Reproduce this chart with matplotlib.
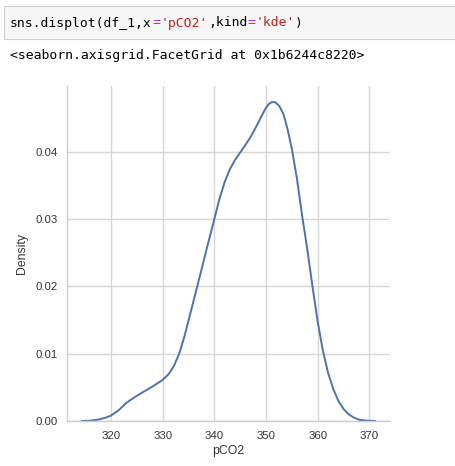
import matplotlib.pyplot as plt

# kde curve of pCO2
pco2 = [314.4, 316.0, 317.5, 319.0, 320.0, 321.5, 323.0, 324.5, 326.0, 328.0, 330.0,
        331.2, 332.2, 333.2, 334.2, 335.2, 336.2, 337.2, 338.5, 340.0, 341.0, 342.0,
        343.0, 344.0, 345.0, 346.0, 347.0, 348.0, 349.0, 349.8, 350.5, 351.1, 351.8,
        352.6, 353.4, 354.2, 355.0, 356.0, 357.0, 358.0, 359.0, 360.0, 361.0, 362.0,
        363.0, 364.0, 365.0, 366.0, 367.0, 368.0, 369.5, 371.1]
density = [0.0, 0.00005, 0.0002, 0.0005, 0.0008, 0.0016, 0.0027, 0.0035, 0.0042, 0.0051,
           0.0061, 0.0070, 0.0082, 0.0100, 0.0125, 0.0155, 0.0185, 0.0215, 0.0255, 0.0300,
           0.0330, 0.0355, 0.0374, 0.0388, 0.0399, 0.0410, 0.0422, 0.0436, 0.0451, 0.0463,
           0.0471, 0.0474, 0.0474, 0.0468, 0.0456, 0.0433, 0.0405, 0.0360, 0.0305, 0.0255,
           0.0200, 0.0148, 0.0105, 0.0072, 0.0048, 0.0030, 0.0018, 0.0010, 0.0005, 0.0002,
           0.00005, 0.0]
xticks = [320, 330, 340, 350, 360, 370]
yticks = [0.00, 0.01, 0.02, 0.03, 0.04]

W, H = 455, 466
fig = plt.figure(figsize=(W / 100, H / 100), dpi=100)

# notebook input cell
cell = plt.Rectangle((4 / W, 1 - 39 / H), 460 / W, 33 / H, transform=fig.transFigure,
                     facecolor='#f7f7f7', edgecolor='#cfcfcf', linewidth=0.8)
fig.patches.append(cell)

mono = 'DejaVu Sans Mono'
fs = 9.45
cw = 7.92  # px per char
parts = [("sns.displot(df_1,x", 'black'), ("=", '#aa22ff'), ("'pCO2'", '#ba2121'),
         (",kind", 'black'), ("=", '#aa22ff'), ("'kde'", '#ba2121'), (")", 'black')]
pos = 10
for txt, col in parts:
    fig.text(pos / W, 1 - 23 / H, txt, color=col, family=mono, fontsize=fs, va='center')
    pos += len(txt) * cw
fig.text(10 / W, 1 - 56 / H, "<seaborn.axisgrid.FacetGrid at 0x1b6244c8220>",
         family=mono, fontsize=fs, va='center', color='black')

ax = fig.add_axes([67 / W, 45 / H, 323 / W, 335 / H])
ax.plot(pco2, density, color='#4c72b0', linewidth=1.4)
ax.set_xlim(311.5, 374.0)
ax.set_ylim(0, 0.0498)
ax.set_xticks(xticks)
ax.set_yticks(yticks)
ax.set_yticklabels(['%.2f' % v for v in yticks])
ax.grid(True, color='#d6d6d6', linewidth=1.0)
ax.set_axisbelow(True)
for s in ['top', 'right']:
    ax.spines[s].set_visible(False)
for s in ['left', 'bottom']:
    ax.spines[s].set_color('#cccccc')
    ax.spines[s].set_linewidth(1.0)
ax.tick_params(length=0, pad=7, labelsize=8.2, labelcolor='#333333')
for lab in ax.get_xticklabels() + ax.get_yticklabels():
    lab.set_family('Liberation Sans')
ax.set_xlabel('pCO2', family='Liberation Sans', fontsize=8.8, color='#333333', labelpad=3)
ax.set_ylabel('Density', family='Liberation Sans', fontsize=8.8, color='#333333', labelpad=5)

fig.savefig('out.png', dpi=100)
